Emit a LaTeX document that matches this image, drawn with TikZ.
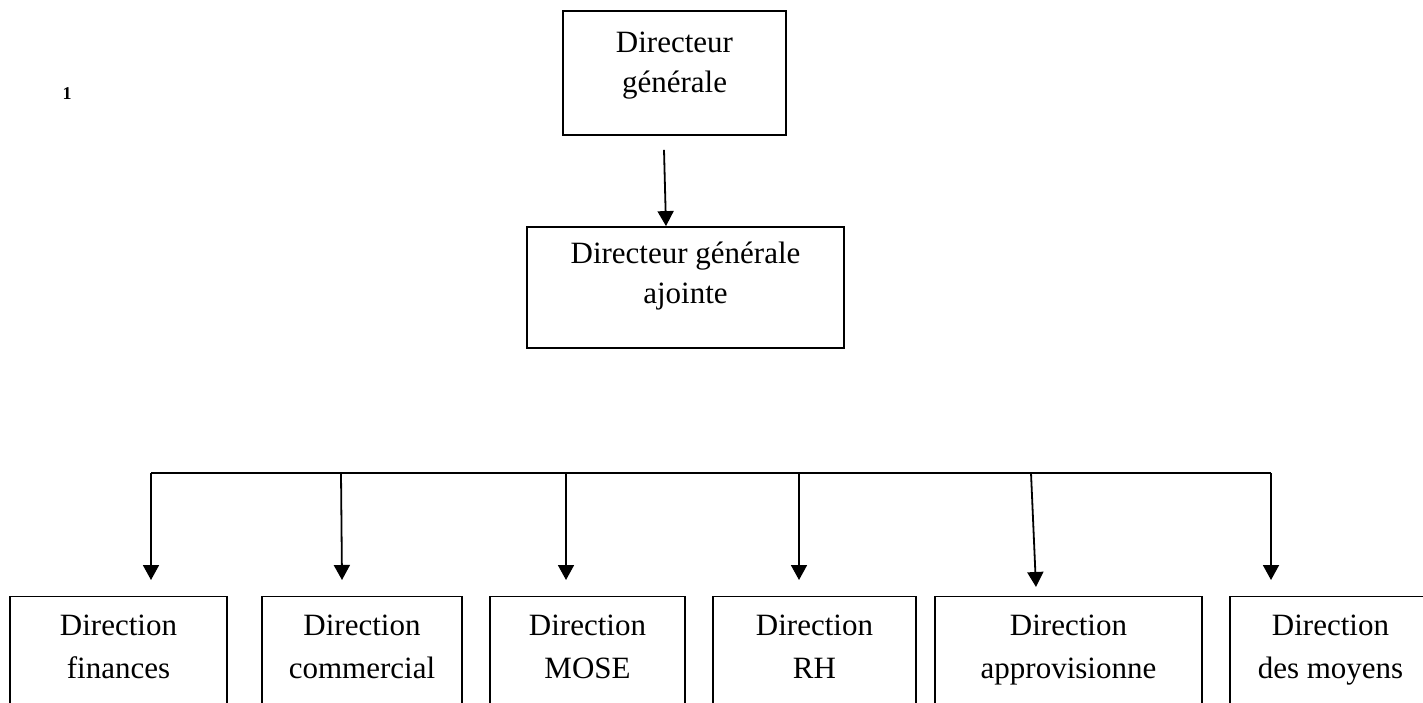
\documentclass[tikz,border=0pt]{standalone}
\usepackage{fontspec}
\setmainfont{Liberation Serif}
\usetikzlibrary{arrows.meta}
\begin{document}
\begin{tikzpicture}[x=0.5pt,y=-0.5pt,
  box/.style={draw, line width=0.9pt, inner sep=0pt},
  lbl/.style={anchor=base, inner sep=0pt, font=\fontsize{15.5}{18}\selectfont},
  arr/.style={line width=0.9pt, -{Triangle[width=8pt,length=7.5pt]}},
  busline/.style={line width=0.9pt}]
\useasboundingbox (0,0) rectangle (1423,702);
\clip (0,0) rectangle (1423,702);
% footnote marker
\node[anchor=base, inner sep=0pt, font=\fontsize{9}{10}\selectfont\bfseries] (fn) at (67,99) {1};
% top boxes
\node[box, minimum width=111.5pt, minimum height=62pt] (dg) at (674.5,73) {};
\node[lbl] (dgA) at (674.5,52) {Directeur};
\node[lbl] (dgB) at (674.5,92) {générale};
\node[box, minimum width=158.5pt, minimum height=60.5pt] (dga) at (685.5,287.5) {};
\node[lbl] (dgaA) at (685.5,263) {Directeur générale};
\node[lbl] (dgaB) at (685.5,303) {ajointe};
% bottom boxes
\node[box, minimum width=108.5pt, minimum height=100pt] (b1) at (118.5,696.5) {};
\node[box, minimum width=100pt, minimum height=100pt] (b2) at (362,696.5) {};
\node[box, minimum width=97.5pt, minimum height=100pt] (b3) at (587.5,696.5) {};
\node[box, minimum width=101.5pt, minimum height=100pt] (b4) at (814.5,696.5) {};
\node[box, minimum width=133.5pt, minimum height=100pt] (b5) at (1068.5,696.5) {};
\node[box, minimum width=100.5pt, minimum height=100pt] (b6) at (1330.5,696.5) {};
\node[lbl] (t1a) at (118.5,635) {Direction};
\node[lbl] (t1b) at (118.5,678) {finances};
\node[lbl] (t2a) at (362,635) {Direction};
\node[lbl] (t2b) at (362,678) {commercial};
\node[lbl] (t3a) at (587.5,635) {Direction};
\node[lbl] (t3b) at (587.5,678) {MOSE};
\node[lbl] (t4a) at (814.5,635) {Direction};
\node[lbl] (t4b) at (814.5,678) {RH};
\node[lbl] (t5a) at (1068.5,635) {Direction};
\node[lbl] (t5b) at (1068.5,678) {approvisionne};
\node[lbl] (t6a) at (1330.5,635) {Direction};
\node[lbl] (t6b) at (1330.5,678) {des moyens};
% connector top
\draw[arr] ([xshift=-5.25pt,yshift=-7pt]dg.south) -- ([xshift=-9.75pt]dga.north);
% bus
\coordinate (p1) at (151,473);
\coordinate (p2) at (341,473);
\coordinate (p3) at (566,473);
\coordinate (p4) at (799,473);
\coordinate (p5) at (1031,473);
\coordinate (p6) at (1271,473);
\coordinate (e1) at (151,580);
\coordinate (e2) at (342,580);
\coordinate (e3) at (566,580);
\coordinate (e4) at (799,580);
\coordinate (e5) at (1036,587);
\coordinate (e6) at (1271,580);
\draw[busline] (p1) -- (p6);
\draw[arr] (p1) -- (e1);
\draw[arr] (p2) -- (e2);
\draw[arr] (p3) -- (e3);
\draw[arr] (p4) -- (e4);
\draw[arr] (p5) -- (e5);
\draw[arr] (p6) -- (e6);
\end{tikzpicture}
\end{document}
